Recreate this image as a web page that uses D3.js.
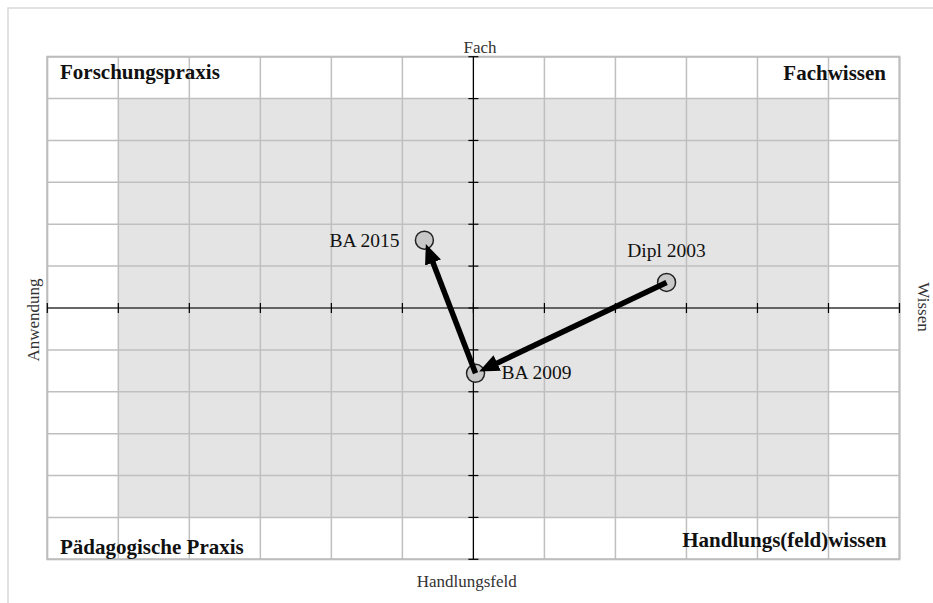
<!DOCTYPE html>
<html><head><meta charset="utf-8">
<script src="https://cdn.jsdelivr.net/npm/d3@7"></script>
<style>
html,body{margin:0;padding:0;background:#fff;overflow:hidden;}
svg{display:block;}
text{font-family:"Liberation Serif","DejaVu Serif",serif;}
</style></head>
<body>
<svg id="chart" width="933" height="603"></svg>
<script>
// ---- data ----
const gridValues = [-6,-5,-4,-3,-2,-1,0,1,2,3,4,5,6];
const shadedRange = [-5, 5];
const pointNames = ["Dipl 2003", "BA 2009", "BA 2015"];
const pointX = [2.72, 0.03, -0.69];
const pointY = [0.61, -1.56, 1.62];
const arrowFrom = [0, 1];
const arrowTo = [1, 2];
const quadrantLabels = ["Forschungspraxis", "Fachwissen", "Pädagogische Praxis", "Handlungs(feld)wissen"];
const axisLabels = ["Fach", "Handlungsfeld", "Anwendung", "Wissen"];

// ---- layout ----
const svg = d3.select("#chart");
const L = 47.3, R = 899.5, T = 56.7, B = 559.3;
const x = d3.scaleLinear().domain([-6, 6]).range([L, R]);
const y = d3.scaleLinear().domain([-6, 6]).range([B, T]);

// outer chart frame (extends beyond the picture on the right and bottom)
svg.append("rect").attr("x", 8).attr("y", 8).attr("width", 1000).attr("height", 1000)
  .attr("fill", "#fff").attr("stroke", "#d9d9d9").attr("stroke-width", 1.5);

// plot background
svg.append("rect").attr("x", L).attr("y", T).attr("width", R - L).attr("height", B - T).attr("fill", "#fff");
svg.append("rect")
  .attr("x", x(shadedRange[0])).attr("y", y(shadedRange[1]))
  .attr("width", x(shadedRange[1]) - x(shadedRange[0]))
  .attr("height", y(shadedRange[0]) - y(shadedRange[1]))
  .attr("fill", "#e4e4e4");

// grid
const grid = svg.append("g").attr("stroke", "#bfbfbf").attr("stroke-width", 1.5);
grid.selectAll("line.v").data(gridValues).join("line").attr("class", "v")
  .attr("x1", d => x(d)).attr("x2", d => x(d)).attr("y1", T).attr("y2", B);
grid.selectAll("line.h").data(gridValues).join("line").attr("class", "h")
  .attr("y1", d => y(d)).attr("y2", d => y(d)).attr("x1", L).attr("x2", R);
svg.append("rect").attr("x", L).attr("y", T).attr("width", R - L).attr("height", B - T)
  .attr("fill", "none").attr("stroke", "#bdbdbd").attr("stroke-width", 2);

// axes through origin
const ax = svg.append("g").attr("stroke", "#000").attr("stroke-width", 1.2);
ax.append("line").attr("x1", L).attr("x2", R).attr("y1", y(0)).attr("y2", y(0));
ax.append("line").attr("x1", x(0)).attr("x2", x(0)).attr("y1", T).attr("y2", B);
ax.selectAll("line.tx").data(gridValues).join("line").attr("class", "tx")
  .attr("x1", d => x(d)).attr("x2", d => x(d)).attr("y1", y(0) - 5).attr("y2", y(0) + 5);
ax.selectAll("line.ty").data(gridValues).join("line").attr("class", "ty")
  .attr("y1", d => y(d)).attr("y2", d => y(d)).attr("x1", x(0) - 5).attr("x2", x(0) + 5);

// axis labels
svg.append("text").attr("x", 480).attr("y", 52.5).attr("text-anchor", "middle")
  .attr("font-size", 17).attr("fill", "#333").text(axisLabels[0]);
svg.append("text").attr("x", 466.7).attr("y", 586.5).attr("text-anchor", "middle")
  .attr("font-size", 17).attr("fill", "#333").text(axisLabels[1]);
svg.append("text").attr("transform", "translate(39,320) rotate(-90)").attr("text-anchor", "middle")
  .attr("font-size", 17).attr("fill", "#333").text(axisLabels[2]);
svg.append("text").attr("transform", "translate(918,307) rotate(90)").attr("text-anchor", "middle")
  .attr("font-size", 17).attr("fill", "#333").text(axisLabels[3]);

// quadrant labels
const qStyle = s => s.attr("font-size", 21).attr("font-weight", "bold").attr("fill", "#111");
svg.append("text").attr("x", 60).attr("y", 79).call(qStyle).text(quadrantLabels[0]);
svg.append("text").attr("x", 886).attr("y", 80).attr("text-anchor", "end").call(qStyle).text(quadrantLabels[1]);
svg.append("text").attr("x", 60).attr("y", 554).call(qStyle).text(quadrantLabels[2]);
svg.append("text").attr("x", 886.5).attr("y", 546.5).attr("text-anchor", "end").call(qStyle).text(quadrantLabels[3]);

// points
const pts = pointNames.map((n, i) => ({ name: n, px: x(pointX[i]), py: y(pointY[i]) }));
svg.selectAll("circle.pt").data(pts).join("circle").attr("class", "pt")
  .attr("cx", d => d.px).attr("cy", d => d.py).attr("r", 9)
  .attr("fill", "#c8c8c8").attr("stroke", "#222").attr("stroke-width", 1.5);

// arrows
const defs = svg.append("defs");
defs.append("marker").attr("id", "ah").attr("viewBox", "0 0 20 17")
  .attr("markerUnits", "userSpaceOnUse").attr("markerWidth", 20).attr("markerHeight", 17)
  .attr("refX", 9).attr("refY", 8.5).attr("orient", "auto")
  .append("path").attr("d", "M0,0 L20,8.5 L0,17 Z").attr("fill", "#000");
arrowFrom.forEach((f, i) => {
  const a = pts[f], b = pts[arrowTo[i]];
  const dx = b.px - a.px, dy = b.py - a.py, len = Math.hypot(dx, dy);
  const ux = dx / len, uy = dy / len;
  const tipX = b.px - 4 * ux, tipY = b.py - 4 * uy;
  svg.append("line")
    .attr("x1", a.px).attr("y1", a.py)
    .attr("x2", tipX - 11 * ux).attr("y2", tipY - 11 * uy)
    .attr("stroke", "#000").attr("stroke-width", 5.5)
    .attr("marker-end", "url(#ah)");
});

// point labels
const lab = svg.append("g").attr("font-size", 19.5).attr("fill", "#111");
lab.append("text").attr("x", pts[0].px).attr("y", pts[0].py - 25.6).attr("text-anchor", "middle").text(pts[0].name);
lab.append("text").attr("x", pts[1].px + 26).attr("y", pts[1].py + 6).text(pts[1].name);
lab.append("text").attr("x", pts[2].px - 25).attr("y", pts[2].py + 6.7).attr("text-anchor", "end").text(pts[2].name);
</script>
</body></html>
